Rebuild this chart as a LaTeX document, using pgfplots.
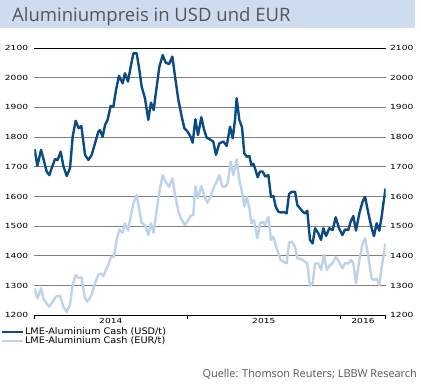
\documentclass[border=0pt]{standalone}
\usepackage{fontspec}
\usepackage{graphicx}
\usepackage{pgfplots}
\pgfplotsset{compat=1.18}
\setmainfont{DejaVu Sans}
\newfontfamily\tickfont{DejaVu Sans}
\newfontfamily\titlefont{Open Sans}
\definecolor{darkblue}{HTML}{0B4A82}
\definecolor{lightblue}{HTML}{BFD2EC}
\definecolor{band}{HTML}{CEDCF0}
\definecolor{titlegray}{HTML}{555555}
\definecolor{gridgray}{HTML}{808080}
\begin{document}
\begin{tikzpicture}
\useasboundingbox (0pt,0pt) rectangle (421pt,385pt);
\fill[band] (0pt,357.3pt) rectangle (415pt,385pt);
\node[anchor=base west, inner sep=0pt, text=titlegray, font=\titlefont\fontsize{18.5}{20}\selectfont] at (12pt,363.3pt) {Aluminiumpreis in USD und EUR};
\node[anchor=base east, inner sep=0pt, text=titlegray, font=\titlefont\fontsize{10.9}{12}\selectfont] at (417pt,7.3pt) {Quelle: Thomson Reuters; LBBW Research};
\begin{axis}[
  at={(34.3pt,69.7pt)}, anchor=south west, scale only axis,
  width=351.4pt, height=267.3pt,
  xmin=0, xmax=27.56, ymin=1200, ymax=2100,
  axis x line*=bottom, axis y line*=left,
  y axis line style={draw=none},
  ytick={1200,1300,...,2000},
  extra y ticks={2100},
  extra y tick style={grid style={black, line width=0.9pt}},
  ytick style={draw=none},
  ymajorgrids, grid style={gridgray, line width=0.8pt},
  yticklabel={\scalebox{1.3}[1]{\pgfmathprintnumber[1000 sep={},assume math mode=true,fixed,precision=0]{\tick}}},
  yticklabel style={font=\tickfont\fontsize{7}{8}\selectfont, anchor=east, inner sep=0pt, xshift=-2pt},
  xtick={0,12,24,27.56}, xticklabels={},
  x axis line style={black, line width=0.8pt},
  xtick style={black, line width=0.8pt},
  tick align=outside, major tick length=4pt,
  extra x ticks={6,18,25.78},
  extra x tick labels={\scalebox{1.3}[1]{2014},\scalebox{1.3}[1]{2015},\scalebox{1.3}[1]{2016}},
  extra x tick style={major tick length=0pt, xticklabel style={font=\tickfont\fontsize{7}{8}\selectfont, anchor=north, inner sep=0pt, yshift=-3pt}},
  legend style={draw=none, fill=none, at={(-0.0948,-0.045)}, anchor=north west, inner sep=0pt,
    font=\tickfont\fontsize{9}{10}\selectfont, row sep=0pt,
    nodes={inner sep=0.5pt, text depth=1.5pt, text height=6.5pt}},
  legend cell align=left,
  legend image code/.code={\draw[#1] (0pt,0pt) -- (21pt,0pt);},
  clip=true,
]
\addplot[darkblue, line width=2.4pt, line join=round] coordinates {
(0.03,1759)(0.24,1703)(0.53,1757)(0.71,1728)(0.97,1684)(1.18,1672)(1.36,1695)(1.62,1726)(1.83,1723)(2.07,1751)(2.28,1703)(2.54,1669)(2.80,1695)(3.01,1801)(3.24,1855)(3.48,1830)(3.69,1837)(3.98,1740)(4.24,1723)(4.50,1740)(4.76,1779)(5.02,1818)(5.15,1824)(5.36,1801)(5.55,1841)(5.75,1858)(5.99,1905)(6.20,1902)(6.41,1959)(6.64,2006)(6.93,1981)(7.11,2015)(7.35,1987)(7.56,2037)(7.77,2082)(8.03,2082)(8.24,2026)(8.42,1970)(8.68,1931)(8.94,1858)(9.15,1916)(9.36,1891)(9.60,1970)(9.81,2037)(10.07,2076)(10.30,2051)(10.57,2046)(10.83,2071)(11.04,2003)(11.30,1925)(11.56,1869)(11.77,1830)(12.03,1818)(12.26,1801)(12.42,1781)(12.63,1860)(12.84,1807)(13.10,1867)(13.31,1826)(13.52,1798)(13.78,1792)(14.04,1785)(14.25,1740)(14.51,1779)(14.83,1785)(15.09,1770)(15.35,1835)(15.56,1796)(15.74,1858)(15.87,1931)(16.08,1858)(16.29,1833)(16.47,1745)(16.66,1734)(16.87,1736)(17.02,1706)(17.18,1710)(17.31,1695)(17.52,1665)(17.70,1684)(17.91,1684)(18.12,1667)(18.36,1672)(18.56,1599)(18.75,1602)(18.93,1566)(19.14,1549)(19.35,1546)(19.56,1548)(19.79,1543)(19.98,1608)(20.19,1616)(20.45,1616)(20.63,1571)(20.84,1560)(21.05,1549)(21.23,1543)(21.41,1552)(21.62,1454)(21.83,1442)(22.02,1493)(22.28,1476)(22.49,1454)(22.67,1493)(22.88,1467)(23.14,1493)(23.40,1487)(23.64,1530)(23.90,1493)(24.16,1470)(24.37,1489)(24.63,1487)(24.81,1515)(25.02,1534)(25.23,1485)(25.49,1543)(25.75,1583)(25.94,1599)(26.20,1543)(26.46,1493)(26.64,1467)(26.85,1510)(27.06,1485)(27.24,1532)(27.38,1577)(27.55,1627)
};
\addlegendentry{\scalebox{1.08}[1]{LME-Aluminium Cash (USD/t)}}
\addplot[lightblue, line width=2.4pt, line join=round] coordinates {
(0.03,1291)(0.24,1257)(0.53,1291)(0.71,1257)(0.97,1240)(1.18,1229)(1.44,1246)(1.70,1263)(2.02,1266)(2.28,1229)(2.54,1212)(2.80,1235)(3.01,1302)(3.24,1336)(3.48,1325)(3.69,1328)(3.98,1257)(4.16,1246)(4.50,1269)(4.76,1308)(5.02,1336)(5.23,1341)(5.42,1332)(5.62,1353)(5.83,1373)(6.02,1397)(6.25,1397)(6.46,1454)(6.67,1489)(6.93,1478)(7.11,1510)(7.35,1485)(7.56,1532)(7.77,1577)(8.03,1605)(8.24,1555)(8.42,1512)(8.68,1504)(8.94,1470)(9.15,1510)(9.36,1478)(9.60,1555)(9.81,1616)(10.07,1672)(10.30,1650)(10.57,1633)(10.83,1661)(11.04,1605)(11.30,1549)(11.56,1521)(11.82,1504)(12.08,1521)(12.26,1535)(12.47,1538)(12.63,1633)(12.84,1594)(13.10,1635)(13.31,1605)(13.57,1579)(13.78,1594)(14.04,1627)(14.25,1644)(14.51,1672)(14.75,1633)(14.96,1633)(15.17,1644)(15.40,1717)(15.61,1672)(15.87,1725)(16.08,1655)(16.29,1616)(16.47,1566)(16.66,1599)(16.87,1560)(17.02,1510)(17.23,1521)(17.49,1459)(17.70,1510)(17.91,1515)(18.09,1504)(18.36,1532)(18.56,1454)(18.75,1465)(18.96,1431)(19.14,1409)(19.32,1386)(19.58,1380)(19.79,1375)(19.98,1445)(20.19,1448)(20.45,1431)(20.63,1392)(20.84,1390)(21.05,1386)(21.23,1380)(21.41,1375)(21.62,1299)(21.83,1308)(22.02,1375)(22.28,1375)(22.49,1353)(22.72,1403)(22.93,1353)(23.19,1369)(23.40,1375)(23.64,1397)(23.90,1380)(24.16,1358)(24.37,1375)(24.63,1375)(24.84,1386)(25.02,1375)(25.23,1308)(25.49,1386)(25.75,1442)(25.94,1459)(26.20,1397)(26.46,1324)(26.64,1319)(26.85,1324)(27.06,1302)(27.24,1363)(27.38,1397)(27.55,1442)
};
\addlegendentry{\scalebox{1.08}[1]{LME-Aluminium Cash (EUR/t)}}
\end{axis}
\begin{axis}[
  at={(34.3pt,69.7pt)}, anchor=south west, scale only axis,
  width=351.4pt, height=267.3pt,
  xmin=0, xmax=27.56, ymin=1200, ymax=2100,
  hide x axis, axis y line*=right,
  y axis line style={draw=none},
  ytick={1200,1300,...,2100},
  ytick style={draw=none},
  yticklabel={\scalebox{1.3}[1]{\pgfmathprintnumber[1000 sep={},assume math mode=true,fixed,precision=0]{\tick}}},
  yticklabel style={font=\tickfont\fontsize{7}{8}\selectfont, anchor=west, inner sep=0pt, xshift=4.3pt},
]
\end{axis}
\end{tikzpicture}
\end{document}
